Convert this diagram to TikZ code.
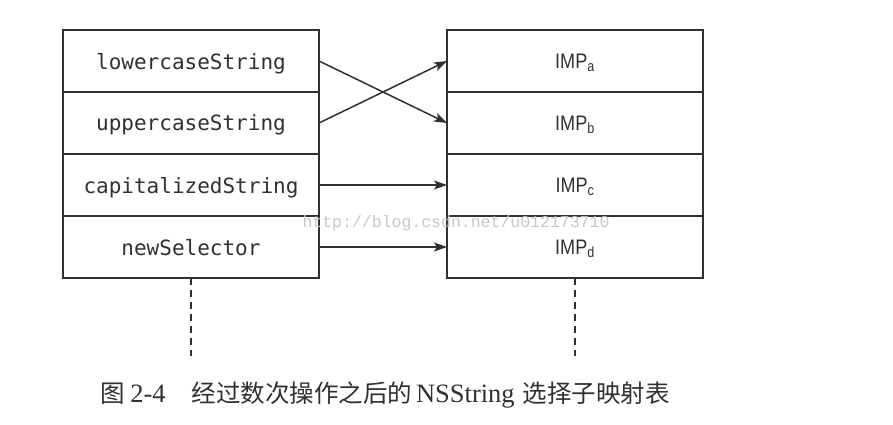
\documentclass[tikz,border=0pt]{standalone}
\usepackage{fontspec}
\setmainfont{Liberation Serif}
\setmonofont{DejaVu Sans Mono}
\newfontfamily\cjk{Noto Sans CJK SC}
\newfontfamily\wmfont{Liberation Mono}
\newfontfamily\impfont[FakeStretch=0.86]{Liberation Sans}
\usepackage{tikz}
\usetikzlibrary{arrows.meta,positioning}

\definecolor{ink}{HTML}{303030}

\begin{document}
\begin{tikzpicture}[x=1pt,y=-1pt,->,>={Stealth[length=13pt,width=9pt,inset=3pt]},
  line width=1.5pt,color=ink,
  row node/.style={rectangle,draw=ink,line width=1.6pt,outer sep=0pt,inner sep=0pt,
    minimum width=256pt,minimum height=62pt,text depth=0pt,text=ink,font=\ttfamily\fontsize{21}{24}\selectfont},
  imp node/.style={row node,font=\impfont\fontsize{21}{24}\selectfont}]

  \useasboundingbox (0,0) rectangle (893,425);

  \node[row node] (l1) at (191,61) {lowercaseString};
  \node[row node] (l2) [below=0pt of l1] {uppercaseString};
  \node[row node] (l3) [below=0pt of l2] {capitalizedString};
  \node[row node] (l4) [below=0pt of l3] {newSelector};

  \node[imp node] (r1) [right=128pt of l1] {IMP\textsubscript{a}};
  \node[imp node] (r2) [below=0pt of r1] {IMP\textsubscript{b}};
  \node[imp node] (r3) [below=0pt of r2] {IMP\textsubscript{c}};
  \node[imp node] (r4) [below=0pt of r3] {IMP\textsubscript{d}};

  \path
    (l1.east) edge (r2.west)
    (l2.east) edge (r1.west)
    (l3) edge (r3)
    (l4) edge (r4);

  % lifelines
  \coordinate[below=78pt of l4.south] (ld);
  \coordinate[below=78pt of r4.south] (rd);
  \draw[-,dash pattern=on 7pt off 5pt,line width=1.3pt] (l4.south) -- (ld);
  \draw[-,dash pattern=on 7pt off 5pt,line width=1.3pt] (r4.south) -- (rd);

  \node[text=black!22,font=\wmfont\fontsize{16.5}{18}\selectfont] (wm) at (456,223) {http://blog.csdn.net/u012173710};

  \node[text=ink,anchor=west,inner sep=0pt,font=\fontsize{26.5}{28}\selectfont] (cap) at (100,395)
    {{\cjk\fontsize{24.5}{28}\selectfont 图}\hspace{5pt}2-4\hspace{26pt}{\cjk\fontsize{24.5}{28}\selectfont 经过数次操作之后的}\hspace{4pt}NSString\hspace{8pt}{\cjk\fontsize{24.5}{28}\selectfont 选择子映射表}};
\end{tikzpicture}
\end{document}
